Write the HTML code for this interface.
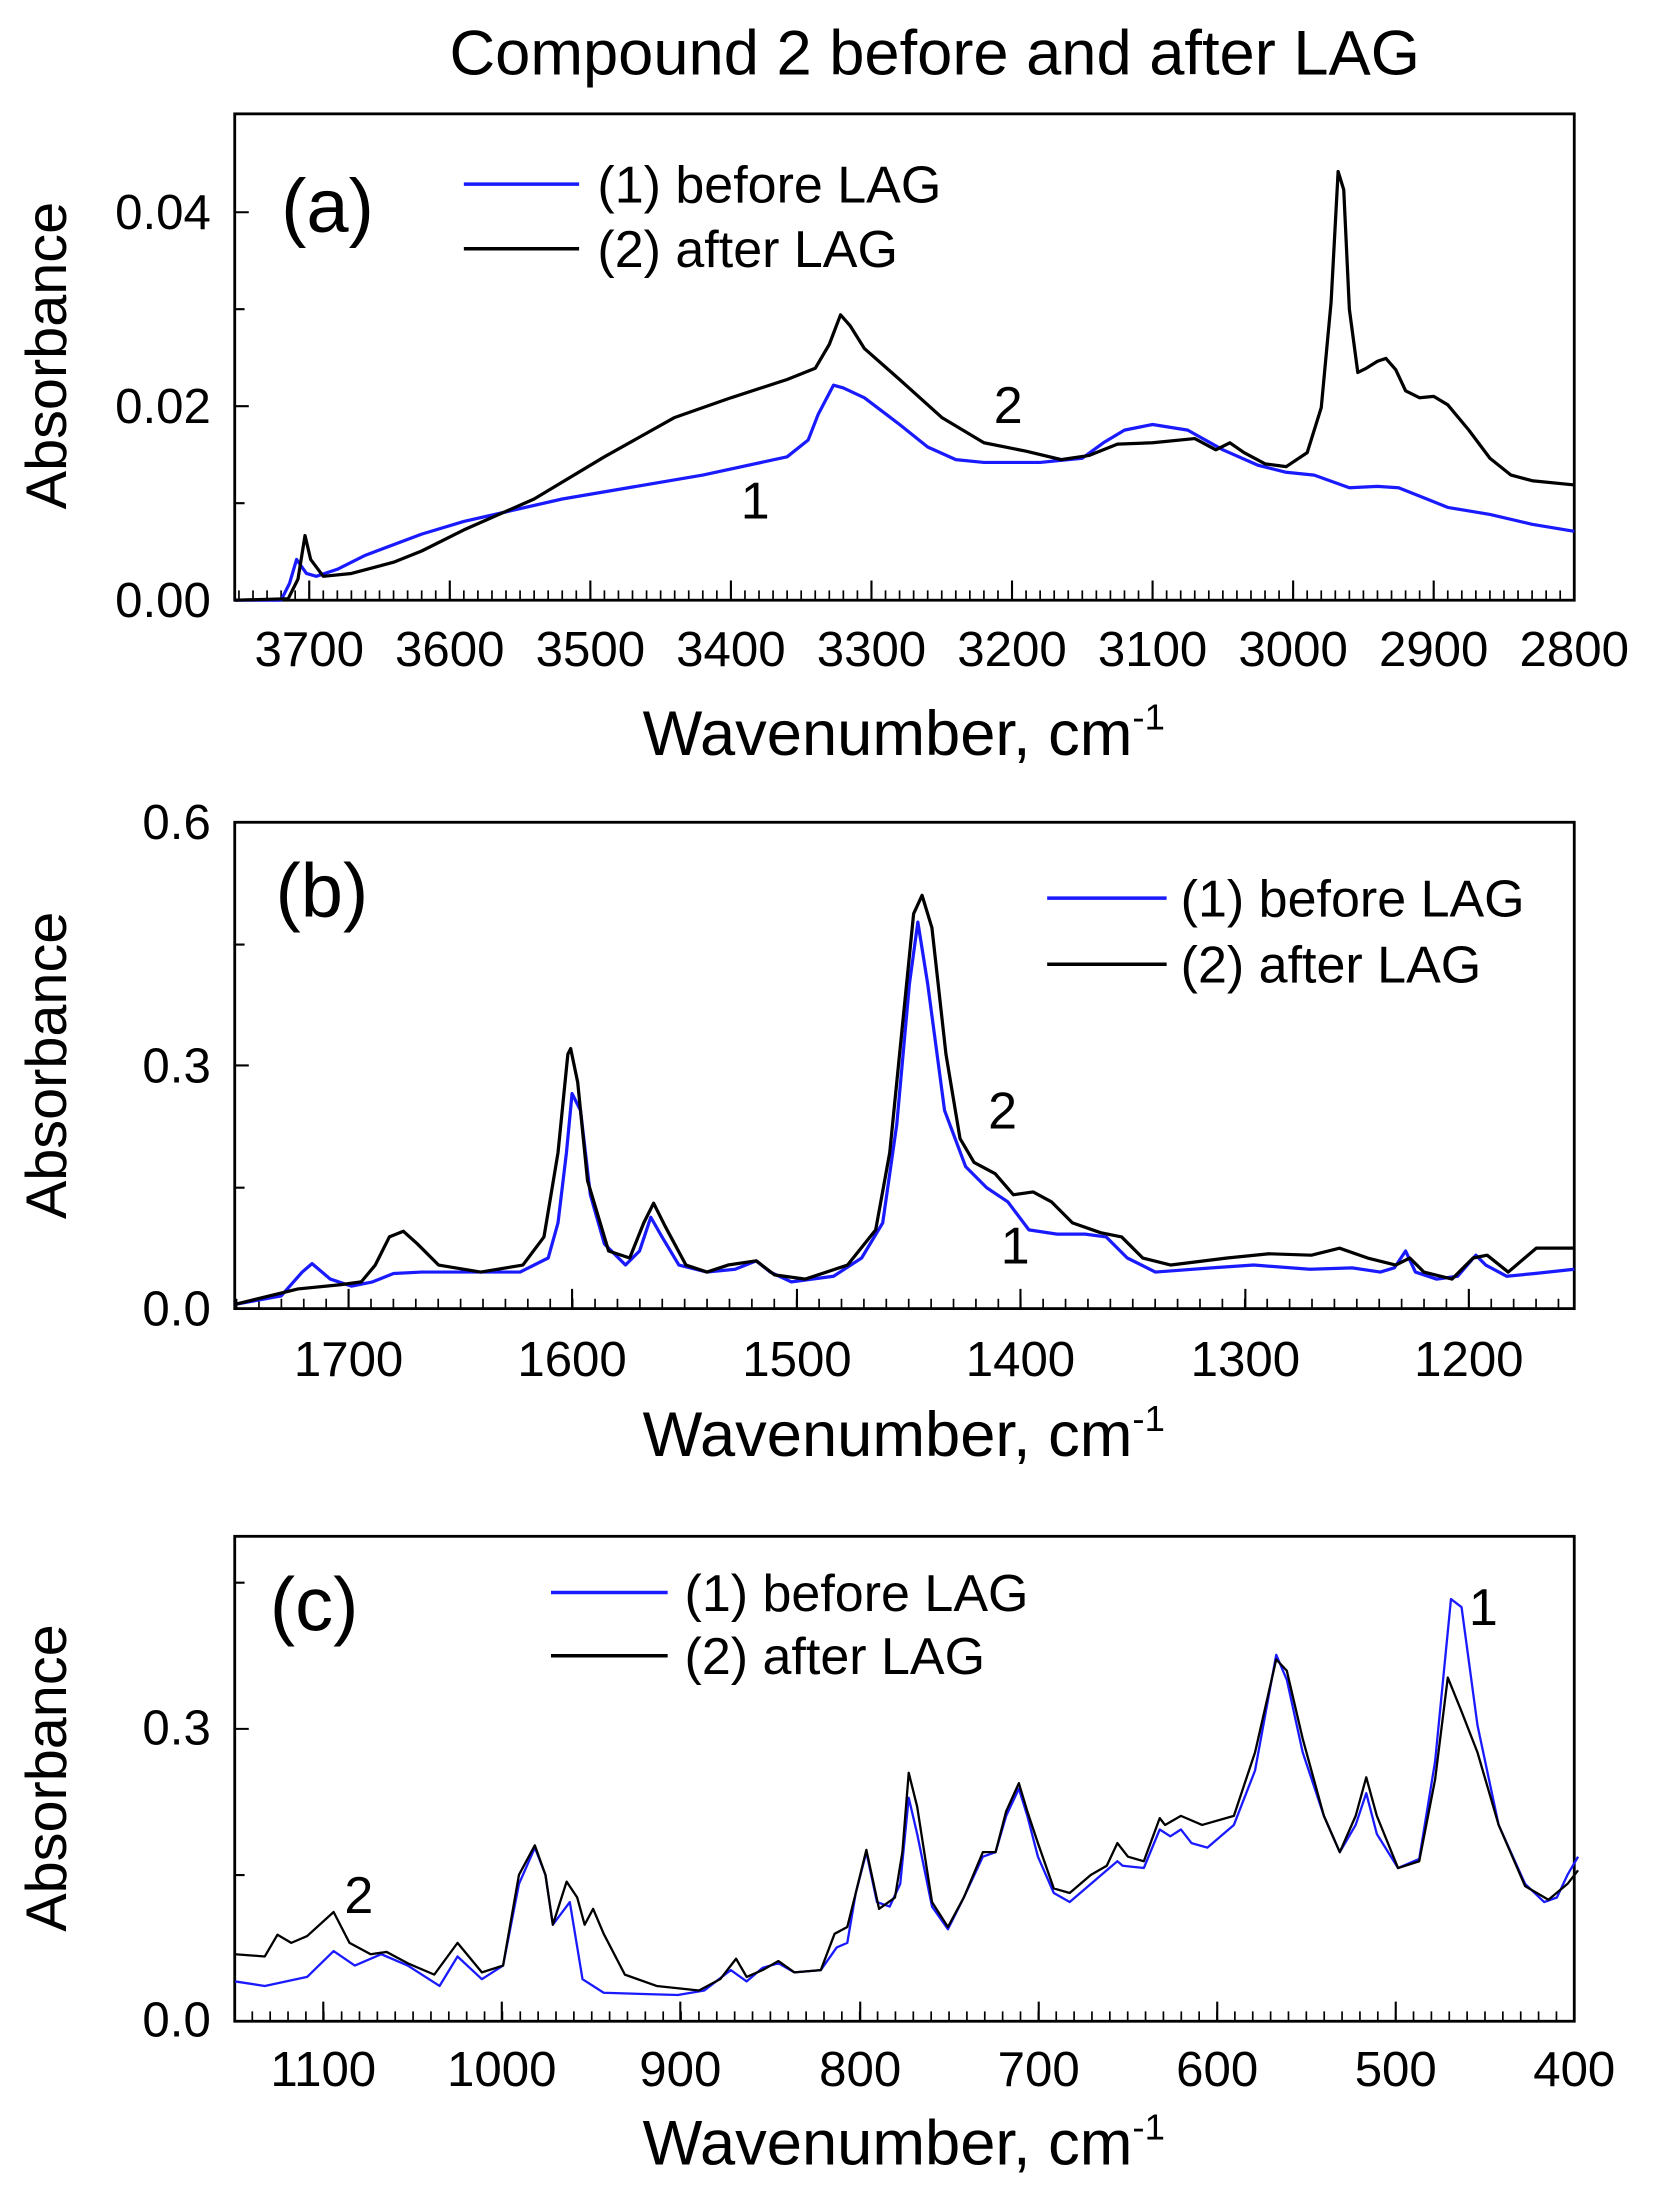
<!DOCTYPE html>
<html><head><meta charset="utf-8"><style>
html,body{margin:0;padding:0;background:#fff}
svg{display:block}
text{font-family:"Liberation Sans",Arial,sans-serif;fill:#000}
.t{font-size:35px}
.lg{font-size:37px}
.ax{font-size:45px}
.yl{font-size:41px}
.pl{fill:none;stroke-width:2.3;stroke-linejoin:round}
.b{stroke:#1a1aff}.k{stroke:#000}
</style></head><body>
<svg width="1660" height="2211" viewBox="0 0 1181 1573" xmlns="http://www.w3.org/2000/svg">
<text x="665" y="53" font-size="45" text-anchor="middle">Compound 2 before and after LAG</text>

<!-- Panel a -->
<rect x="167" y="81" width="953" height="346" fill="none" stroke="#000" stroke-width="2"/>
<g stroke="#000" stroke-width="1.5">
<path d="M220 427v-14M320 427v-14M420 427v-14M520 427v-14M620 427v-14M720 427v-14M820 427v-14M920 427v-14M1020 427v-14M1120 427v-14"/>
<path d="M167 427h10M167 358h7M167 289h10M167 220h7M167 151h10"/>
</g>
<line x1="169.4" y1="423.5" x2="1120" y2="423.5" stroke="#000" stroke-width="7" stroke-dasharray="1.2 8.8"/>
<g class="t" text-anchor="end"><text x="150" y="439">0.00</text><text x="150" y="301">0.02</text><text x="150" y="163">0.04</text></g>
<g class="t" text-anchor="middle"><text x="220" y="474">3700</text><text x="320" y="474">3600</text><text x="420" y="474">3500</text><text x="520" y="474">3400</text><text x="620" y="474">3300</text><text x="720" y="474">3200</text><text x="820" y="474">3100</text><text x="920" y="474">3000</text><text x="1020" y="474">2900</text><text x="1120" y="474">2800</text></g>
<text class="ax" x="643" y="537" text-anchor="middle">Wavenumber, cm<tspan font-size="26" dy="-18">-1</tspan></text>
<text class="yl" x="47" y="253" text-anchor="middle" transform="rotate(-90 47 253)">Absorbance</text>
<text x="200" y="165" font-size="54">(a)</text>
<path d="M330 131h82" stroke="#1a1aff" stroke-width="2.5"/><path d="M330 177h82" stroke="#000" stroke-width="2.5"/>
<text class="lg" x="425" y="144">(1) before LAG</text><text class="lg" x="425" y="190">(2) after LAG</text>
<text class="lg" x="707" y="301">2</text><text class="lg" x="527" y="369">1</text>
<polyline class="pl b" points="167,427 200,427 206,415 211,398 218,408 225,410 240,405 260,395 300,380 330,371 400,355 500,338 560,325 575,313 582,295 593,274 600,276 615,283 640,302 660,318 680,327 700,329 740,329 770,326 785,315 800,306 820,302 845,306 870,320 895,331 915,336 935,338 960,347 980,346 995,347 1010,353 1030,361 1060,366 1090,373 1120,378"/>
<polyline class="pl k" points="167,427 205,426 212,412 217,381 221,398 230,410 250,408 280,400 300,392 330,377 380,355 430,325 480,297 520,283 560,270 580,262 590,245 598,224 605,232 615,248 640,270 670,297 700,315 730,321 755,327 775,324 795,316 820,315 850,312 865,320 875,315 885,322 900,330 915,332 930,322 940,290 947,215 952,122 956,135 960,220 966,265 972,262 980,257 986,255 993,263 1000,278 1010,283 1020,282 1030,288 1045,306 1060,326 1075,338 1090,342 1120,345"/>

<!-- Panel b -->
<rect x="167" y="585" width="953" height="346" fill="none" stroke="#000" stroke-width="2"/>
<path stroke="#000" stroke-width="1.5" d="M248 931v-14M407 931v-14M567 931v-14M726 931v-14M886 931v-14M1045 931v-14M167 931h10M167 845h7M167 758h10M167 672h7M167 585h10"/>
<line x1="167.7" y1="927.5" x2="1120" y2="927.5" stroke="#000" stroke-width="7" stroke-dasharray="1.2 14.74"/>
<text class="t" x="150" y="943" text-anchor="end">0.0</text><text class="t" x="150" y="770" text-anchor="end">0.3</text><text class="t" x="150" y="597" text-anchor="end">0.6</text>
<g class="t" text-anchor="middle"><text x="248" y="979">1700</text><text x="407" y="979">1600</text><text x="567" y="979">1500</text><text x="726" y="979">1400</text><text x="886" y="979">1300</text><text x="1045" y="979">1200</text></g>
<text class="ax" x="643" y="1036" text-anchor="middle">Wavenumber, cm<tspan font-size="26" dy="-18">-1</tspan></text>
<text class="yl" x="47" y="758" text-anchor="middle" transform="rotate(-90 47 758)">Absorbance</text>
<text x="196" y="652" font-size="54">(b)</text>
<path d="M745 639h85" stroke="#1a1aff" stroke-width="2.5"/><path d="M745 686h85" stroke="#000" stroke-width="2.5"/>
<text class="lg" x="840" y="652">(1) before LAG</text><text class="lg" x="840" y="699">(2) after LAG</text>
<text class="lg" x="703" y="803">2</text><text class="lg" x="712" y="899">1</text>
<polyline class="pl b" points="167,928 200,922 215,905 222,899 235,910 250,915 265,912 280,906 300,905 370,905 390,895 397,870 403,820 407,778 413,790 420,850 430,885 445,900 455,890 463,866 471,880 483,900 503,905 523,903 538,897 548,905 563,912 593,908 613,895 628,870 638,800 647,700 653,656 660,700 672,790 687,830 702,845 717,855 732,875 752,878 772,878 787,880 802,895 822,905 862,902 892,900 932,903 962,902 982,905 992,902 1000,890 1007,905 1022,910 1037,908 1050,893 1057,900 1072,908 1092,906 1120,903"/>
<polyline class="pl k" points="167,928 212,917 242,914 257,912 267,900 277,880 287,876 297,885 312,900 342,905 372,900 387,880 397,820 404,750 406,746 411,770 418,840 433,890 448,895 458,870 465,856 473,872 488,900 503,905 518,900 538,897 551,907 573,910 603,900 623,875 633,820 643,720 650,650 656,637 663,660 673,750 683,810 693,827 708,835 721,850 735,848 748,855 763,870 783,877 798,880 813,895 833,900 873,895 903,892 933,893 953,888 973,895 993,900 1003,895 1013,905 1033,910 1048,895 1058,893 1073,905 1093,888 1120,888"/>

<!-- Panel c -->
<rect x="167" y="1093" width="953" height="345" fill="none" stroke="#000" stroke-width="2"/>
<path stroke="#000" stroke-width="1.5" d="M230 1438v-14M357 1438v-14M484 1438v-14M612 1438v-14M739 1438v-14M866 1438v-14M993 1438v-14M1120 1438v-14M167 1438h10M167 1334h7M167 1230h10M167 1126h7"/>
<line x1="178.9" y1="1434.5" x2="1120" y2="1434.5" stroke="#000" stroke-width="7" stroke-dasharray="1.2 11.51"/>
<text class="t" x="150" y="1449" text-anchor="end">0.0</text><text class="t" x="150" y="1241" text-anchor="end">0.3</text>
<g class="t" text-anchor="middle"><text x="230" y="1484">1100</text><text x="357" y="1484">1000</text><text x="484" y="1484">900</text><text x="612" y="1484">800</text><text x="739" y="1484">700</text><text x="866" y="1484">600</text><text x="993" y="1484">500</text><text x="1120" y="1484">400</text></g>
<text class="ax" x="643" y="1540" text-anchor="middle">Wavenumber, cm<tspan font-size="26" dy="-18">-1</tspan></text>
<text class="yl" x="47" y="1265" text-anchor="middle" transform="rotate(-90 47 1265)">Absorbance</text>
<text x="192" y="1160" font-size="54">(c)</text>
<path d="M392 1133h83" stroke="#1a1aff" stroke-width="2.5"/><path d="M392 1178h83" stroke="#000" stroke-width="2.5"/>
<text class="lg" x="487" y="1146">(1) before LAG</text><text class="lg" x="487" y="1191">(2) after LAG</text>
<text class="lg" x="1045" y="1156">1</text><text class="lg" x="245" y="1361">2</text>
<g transform="translate(0,1066) scale(0.7535,0.3227)">
<polyline class="pl b" vector-effect="non-scaling-stroke" points="222,1065 250,1075 290,1055 315,998 335,1030 360,1005 385,1030 415,1075 432,1010 455,1060 475,1030 490,850 505,770 515,830 522,940 538,890 550,1060 570,1090 640,1095 665,1085 690,1040 705,1065 720,1035 735,1025 750,1045 775,1040 790,990 800,980 808,870 818,780 828,890 840,900 850,850 858,660 866,740 880,900 895,950 910,880 928,790 940,780 950,700 962,640 970,700 980,790 995,870 1010,890 1030,850 1045,820 1055,800 1060,810 1080,815 1095,730 1105,745 1115,730 1125,760 1140,770 1165,720 1185,600 1205,345 1215,400 1230,560 1250,700 1265,780 1280,720 1290,650 1300,740 1320,815 1340,795 1355,580 1370,222 1380,240 1395,500 1415,720 1440,850 1458,890 1470,880 1480,830 1490,790"/>
<polyline class="pl k" vector-effect="non-scaling-stroke" points="222,1005 250,1010 262,962 275,980 290,965 315,912 330,980 350,1005 365,1000 385,1025 410,1050 432,980 455,1045 475,1030 490,830 505,765 515,830 522,940 535,845 545,880 552,940 560,905 570,960 590,1050 620,1075 660,1085 680,1060 695,1015 705,1055 720,1040 735,1020 750,1045 775,1040 788,960 800,945 808,870 818,775 830,905 845,880 852,780 858,605 866,680 880,890 895,945 910,880 928,780 940,780 950,690 962,628 970,690 980,760 995,860 1010,870 1030,830 1045,810 1055,760 1065,790 1080,800 1095,705 1100,720 1115,700 1135,720 1165,700 1185,560 1205,355 1215,380 1230,530 1250,700 1265,780 1280,700 1290,615 1300,700 1320,815 1340,800 1355,620 1367,395 1380,470 1395,560 1415,720 1440,855 1462,885 1480,850 1490,820"/>
</g>
</svg>
</body></html>
